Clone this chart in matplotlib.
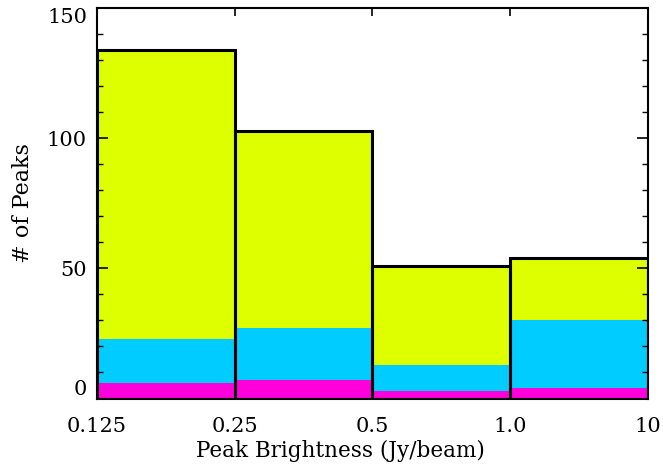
import matplotlib
matplotlib.use("Agg")
import matplotlib.pyplot as plt
import numpy as np

# bin edges shown as tick labels, one bar per bin
edge_labels = ["0.125", "0.25", "0.5", "1.0", "10"]
magenta = [6, 7, 3, 4]
cyan = [17, 20, 10, 26]
yellow = [111, 76, 38, 24]

plt.rcParams['font.family'] = ['DejaVu Serif']

fig = plt.figure(figsize=(6.63, 4.68), dpi=100)
ax = fig.add_axes([0.1458, 0.1485, 0.8316, 0.8338])

x = np.arange(len(magenta))
m = np.array(magenta)
c = np.array(cyan)
y = np.array(yellow)
total = m + c + y

# stacked fills
ax.bar(x, m, width=1, align='edge', color='#ff00dd', linewidth=0)
ax.bar(x, c, width=1, align='edge', bottom=m, color='#00ccff', linewidth=0)
ax.bar(x, y, width=1, align='edge', bottom=m + c, color='#ddff00', linewidth=0)

# black outline around each total bar
ax.bar(x, total, width=1, align='edge', facecolor='none',
       edgecolor='black', linewidth=2.2)

ax.set_xlim(0, len(magenta))
ax.set_ylim(0, 150)

ax.set_xticks(np.arange(len(edge_labels)))
ax.set_xticklabels(edge_labels)
ax.set_yticks([0, 50, 100, 150])
ax.set_yticks(np.arange(0, 151, 10), minor=True)

ax.tick_params(axis='both', which='both', direction='in', top=True, right=True,
               labelsize=15, color='black')
ax.tick_params(axis='y', which='major', length=8, width=1.2, pad=7)
ax.tick_params(axis='y', which='minor', length=4.5, width=1.0)
ax.tick_params(axis='x', which='major', length=6, width=1.2, pad=13)
ax.tick_params(axis='x', which='minor', bottom=False, top=False)

# keep end labels inside the axis range, like the original
ylabels = ax.get_yticklabels()
ylabels[0].set_va('bottom')
ylabels[-1].set_va('top')

for s in ax.spines.values():
    s.set_linewidth(1.5)

ax.set_xlabel("Peak Brightness (Jy/beam)", fontsize=15.5)
ax.xaxis.set_label_coords(0.443, -0.105)
ax.set_ylabel("# of Peaks", fontsize=16)
ax.yaxis.set_label_coords(-0.113, 0.5)

fig.savefig("out.png", dpi=100)
